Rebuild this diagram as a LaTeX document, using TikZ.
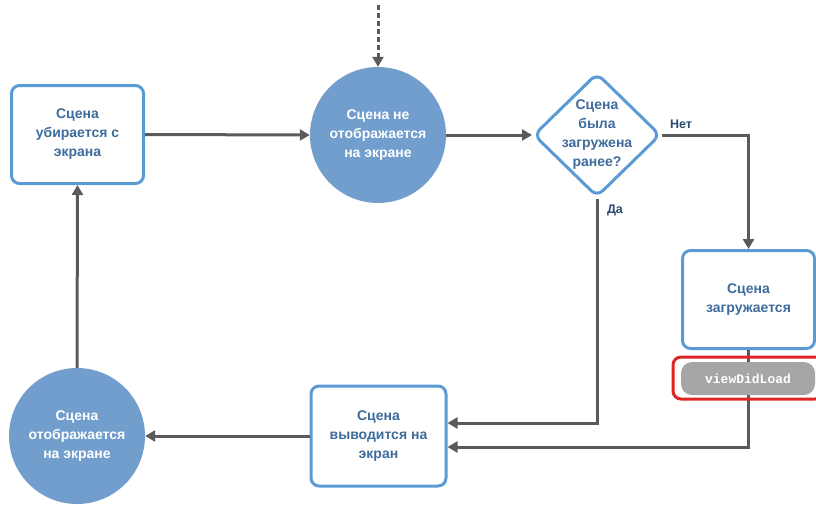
\documentclass[tikz,border=0pt]{standalone}
\usepackage{fontspec}
\setmainfont{Liberation Sans}
\newfontfamily\pillfont{Liberation Mono}
\usetikzlibrary{arrows.meta,shapes.geometric,calc}
\definecolor{bordblue}{HTML}{5B9BD5}
\definecolor{txtblue}{HTML}{3E6C9C}
\definecolor{fillblue}{HTML}{729ECE}
\definecolor{arrgray}{HTML}{5A5A5A}
\definecolor{navy}{HTML}{2C4A6E}
\definecolor{redb}{HTML}{E02424}
\definecolor{pillgray}{HTML}{A6A6A6}
\begin{document}
\begin{tikzpicture}[x=1pt,y=-1pt,
  txt/.style={align=center, font=\bfseries\fontsize{14}{19}\selectfont},
  box/.style={txt, draw=bordblue, line width=3pt, rounded corners=8pt, fill=white,
    minimum width=132pt, minimum height=98pt, text=txtblue},
  circ/.style={txt, circle, fill=fillblue, minimum size=136pt, inner sep=0pt, text=white},
  conn/.style={draw=arrgray, line width=3pt, -{Triangle[length=10pt,width=11pt]}},
  lab/.style={font=\bfseries\fontsize{12.5}{15}\selectfont, text=navy}
]
\useasboundingbox (0,0) rectangle (816,504);
\clip (0,0) rectangle (816,504);

\node[box] (b1) at (77.5,134.5) {Сцена\\убирается с\\экрана};
\node[circ] (c1) at (378,135) {Сцена не\\отображается\\на экране};
\node[diamond, draw=bordblue, line width=3pt, rounded corners=8pt, fill=white,
  minimum width=127pt, minimum height=124pt, inner sep=0pt] (d) at (597,135) {};
\node[txt, text=txtblue] (dt) at (d.center) {Сцена\\была\\загружена\\ранее?};
\node[box] (b2) at (748.5,299.5) {Сцена\\загружается};
\node[box, minimum width=135pt, minimum height=100pt] (b3) at (378.5,436) {Сцена\\выводится на\\экран};
\node[circ] (c2) at (77,436) {Сцена\\отображается\\на экране};

\coordinate (start) at (378,5);
\draw[conn, dash pattern=on 5pt off 3pt] (start) -- (c1.north);
\draw[conn] (b1.east) -- (c1.west);
\draw[conn] (c1.east) -- (d.west);
\draw[conn] (d.east) -| (b2.north);
\draw[conn] (d.south) |- ($(b3.east)+(0,-13)$);
\draw[conn] (b2.south) |- ($(b3.east)+(0,11)$);
\draw[conn] (b3.west) -- (c2.east);
\draw[conn] (c2.north) -- (b1.south);

\node[lab] (no) at (681,124) {Нет};
\node[lab] (yes) at (615,210) {Да};

\node[draw=redb, line width=3pt, rounded corners=8pt, minimum width=150pt, minimum height=42pt] (rf) at (748,378) {};
\node[fill=pillgray, rounded corners=11pt, minimum width=134pt, minimum height=33pt, inner sep=0pt,
  text=white, font=\pillfont\bfseries\fontsize{13}{15}\selectfont] (pill) at (748,378.5) {viewDidLoad};
\end{tikzpicture}
\end{document}
